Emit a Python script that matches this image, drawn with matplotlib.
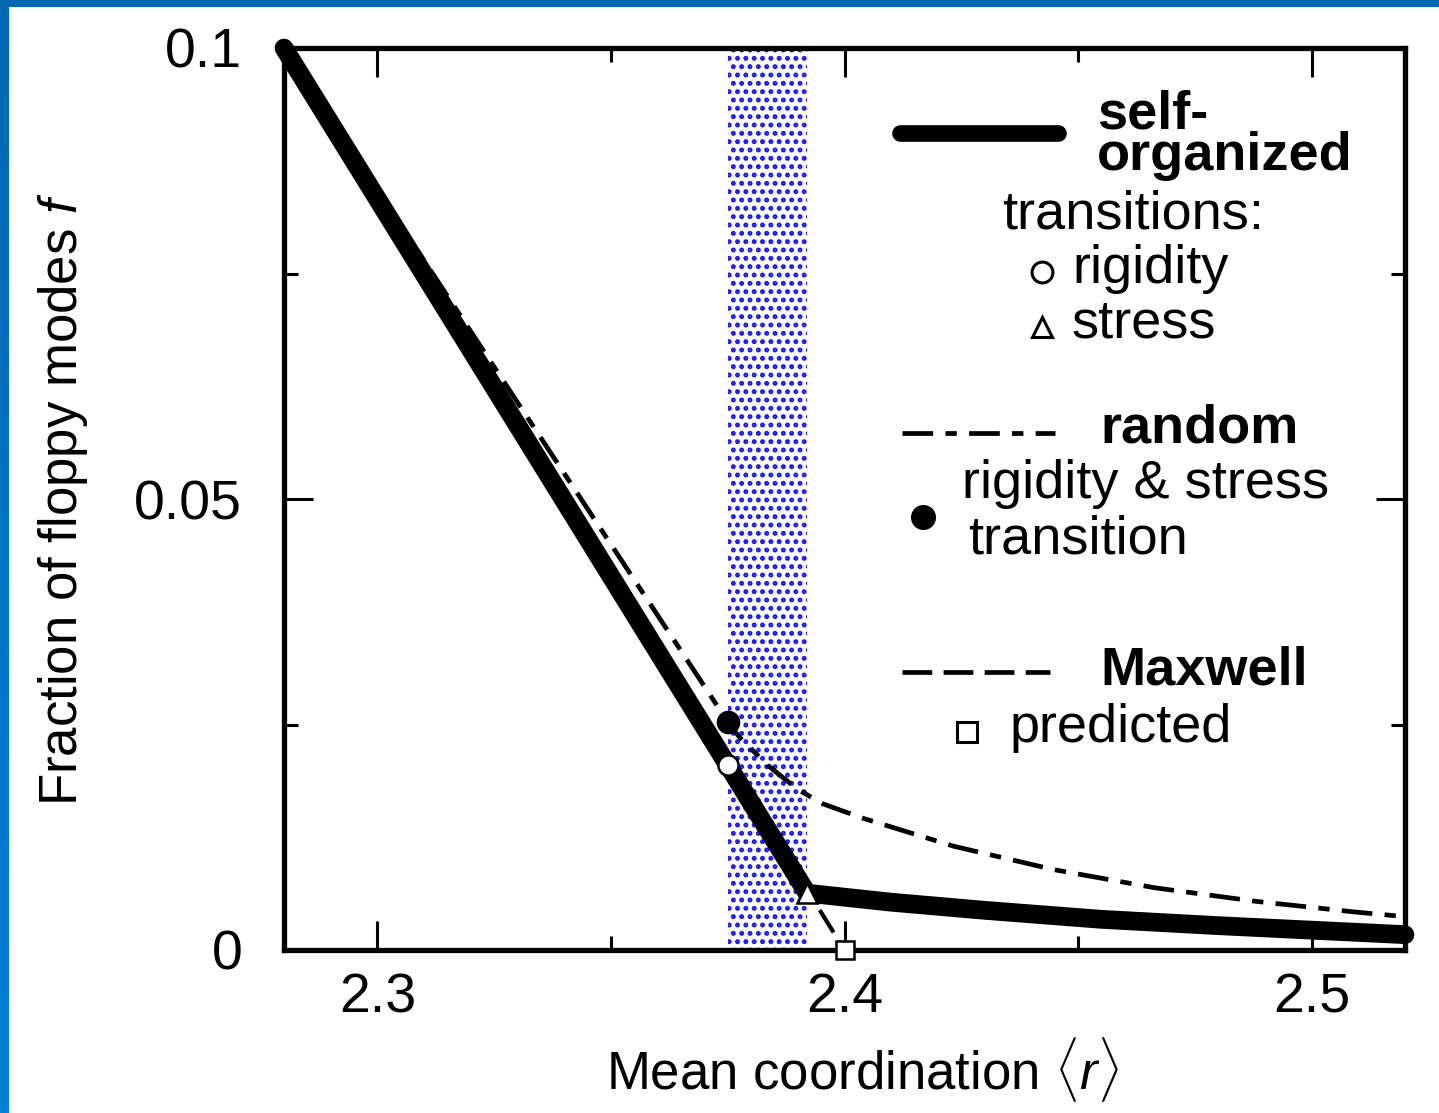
import numpy as np
import matplotlib
matplotlib.use("Agg")
import matplotlib.pyplot as plt
from matplotlib.patches import Rectangle

plt.rcParams['font.family'] = ['Liberation Sans', 'DejaVu Sans']
plt.rcParams['mathtext.fontset'] = 'custom'
plt.rcParams['mathtext.rm'] = 'Liberation Sans'
plt.rcParams['mathtext.it'] = 'Liberation Sans:italic'
plt.rcParams['hatch.linewidth'] = 2.3

# ---- data ---------------------------------------------------------------
# self-organized network
r_self = [2.28, 2.375, 2.392, 2.41, 2.43, 2.455, 2.48, 2.50, 2.52]
f_self = [0.100, 0.0205, 0.0063, 0.0053, 0.0044, 0.0034, 0.0027, 0.0022,
          0.0017]

# random network
r_rand = [2.28, 2.33, 2.375, 2.3775, 2.3835, 2.390, 2.3954, 2.404,
          2.4234, 2.4449, 2.4664, 2.488, 2.5095, 2.52]
f_rand = [0.100, 0.0607, 0.0253, 0.0236, 0.0205, 0.0178, 0.0162, 0.0146,
          0.0115, 0.0089, 0.0069, 0.0054, 0.0042, 0.0037]

# Maxwell counting
r_maxwell = [2.28, 2.40]
f_maxwell = [0.100, 0.0]

# transition points
r_rigidity, f_rigidity = 2.375, 0.0205
r_stress, f_stress = 2.392, 0.0063
r_random_tr, f_random_tr = 2.375, 0.0253
r_pred, f_pred = 2.40, 0.0

x_major = [2.3, 2.4, 2.5]
x_minor = [2.35, 2.45]
y_major = [0.0, 0.05, 0.1]
y_minor = [0.025, 0.075]
y_ticklabels = ['0', '0.05', '0.1']
x_ticklabels = ['2.3', '2.4', '2.5']

DASHDOT = (0, (6.5, 2.6, 2.4, 2.6))
DASHED = (0, (6.3, 2.4))

# ---- figure -------------------------------------------------------------
W, H = 1439, 1113
fig = plt.figure(figsize=(W / 100, H / 100), dpi=100)
fig.patch.set_facecolor('white')

# blue frame along top and left edges
grad_ax = fig.add_axes([0, 0, 9 / W, 1])
grad_ax.axis('off')
top = np.array([0, 104, 176]) / 255
bot = np.array([0, 128, 216]) / 255
t = np.linspace(0, 1, 256)[:, None, None]
grad = top[None, None, :] * (1 - t) + bot[None, None, :] * t
grad_ax.imshow(grad, aspect='auto', extent=[0, 1, 0, 1])
fig.add_artist(Rectangle((0, 1 - 7 / H), 1, 7 / H, transform=fig.transFigure,
                         facecolor=top, edgecolor='none', zorder=10))

ax = fig.add_axes([284 / W, 163 / H, 1121 / W, 902 / H])
ax.set_xlim(2.28, 2.52)
ax.set_ylim(0, 0.1)

# shaded intermediate phase
ax.axvspan(r_rigidity, r_stress, facecolor='none', edgecolor='#1414ff',
           hatch='..', linewidth=0, zorder=0.5)

# curves
ax.plot(r_maxwell, f_maxwell, color='black', lw=3.0,
        linestyle=DASHED, zorder=2, clip_on=False)
ax.plot(r_rand, f_rand, color='black', lw=3.4,
        linestyle=DASHDOT, zorder=3, clip_on=False)
ax.plot(r_self, f_self, color='black', lw=13.5, solid_capstyle='round',
        solid_joinstyle='round', zorder=4, clip_on=False)

# transition markers
ax.plot([r_random_tr], [f_random_tr], 'o', ms=16, color='black', zorder=6)
ax.plot([r_rigidity], [f_rigidity], 'o', ms=14.5, mfc='white', mec='black',
        mew=1.8, zorder=6)
ax.plot([r_stress], [f_stress], '^', ms=15, mfc='white', mec='black',
        mew=1.8, zorder=6)
ax.plot([r_pred], [f_pred], 's', ms=13.5, mfc='white', mec='black',
        mew=1.8, zorder=6, clip_on=False)

# axes styling
for s in ax.spines.values():
    s.set_linewidth(3.8)
ax.set_xticks(x_major)
ax.set_xticklabels(x_ticklabels)
ax.set_xticks(x_minor, minor=True)
ax.set_yticks(y_major)
ax.set_yticklabels(y_ticklabels)
ax.set_yticks(y_minor, minor=True)
ax.tick_params(which='both', direction='in', top=True, right=True,
               width=2.2, labelsize=40)
ax.tick_params(which='major', length=21)
ax.tick_params(which='minor', length=10)
ax.tick_params(axis='x', which='major', pad=16)
ax.tick_params(axis='y', which='major', pad=30)

ax.set_xlabel(r'Mean coordination $\langle r\rangle$', fontsize=38,
              va='center')
ax.xaxis.set_label_coords(0.5156, -0.133)
ax.set_ylabel(r'Fraction of floppy modes $f$', fontsize=38, va='center')
ax.yaxis.set_label_coords(-0.197, 0.5)

# ---- key --------------------------------------------------------------
tr = ax.transAxes
fs = 39
ax.plot([0.5495, 0.6905], [0.9058, 0.9058], color='black', lw=12,
        solid_capstyle='round', transform=tr, clip_on=False)
ax.text(0.7252, 0.8647, 'self-\norganized', fontsize=fs, fontweight='bold',
        transform=tr, va='baseline', linespacing=0.78)
ax.text(0.6405, 0.8004, 'transitions:', fontsize=fs, transform=tr,
        va='baseline')
ax.plot([0.6762], [0.7517], 'o', ms=15, mfc='white', mec='black', mew=2.2,
        transform=tr)
ax.text(0.7029, 0.7395, 'rigidity', fontsize=fs, transform=tr, va='baseline')
ax.plot([0.6762], [0.6907], '^', ms=15, mfc='white', mec='black', mew=2.2,
        transform=tr)
ax.text(0.7029, 0.6785, 'stress', fontsize=fs, transform=tr, va='baseline')

ax.plot([0.5513, 0.6878], [0.5732, 0.5732], color='black', lw=3.4,
        linestyle=DASHDOT, transform=tr)
ax.text(0.7279, 0.5621, 'random', fontsize=fs, fontweight='bold',
        transform=tr, va='baseline')
ax.text(0.6048, 0.5011, 'rigidity & stress', fontsize=fs, transform=tr,
        va='baseline')
ax.text(0.6102, 0.4401, 'transition', fontsize=fs, transform=tr,
        va='baseline')
ax.plot([0.5700], [0.4800], 'o', ms=17, color='black', transform=tr)

ax.plot([0.5513, 0.6833], [0.3082, 0.3082], color='black', lw=3.4,
        linestyle=DASHED, transform=tr)
ax.text(0.7279, 0.2938, 'Maxwell', fontsize=fs, fontweight='bold',
        transform=tr, va='baseline')
ax.plot([0.6093], [0.2417], 's', ms=14, mfc='white', mec='black', mew=2.2,
        transform=tr)
ax.text(0.6476, 0.2306, 'predicted', fontsize=fs, transform=tr,
        va='baseline')

fig.savefig('out.png', dpi=100, facecolor='white')
